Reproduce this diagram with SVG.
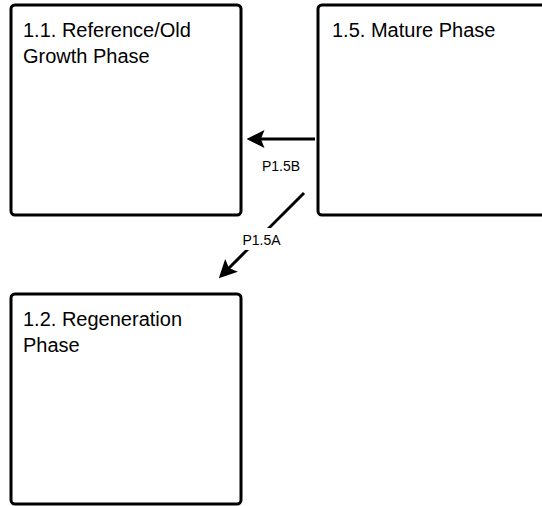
<svg xmlns="http://www.w3.org/2000/svg" width="542" height="506" viewBox="0 0 542 506">
<style>
.box{fill:#fff;stroke:#000;stroke-width:3}
.t{font-family:"Liberation Sans",Arial,sans-serif;font-size:20px;fill:#000}
.lbl{font-family:"Liberation Sans",Arial,sans-serif;font-size:14px;fill:#000;text-anchor:middle}
.edge{stroke:#000;stroke-width:3;fill:none}
</style>
<defs>
<marker id="ah" markerWidth="6" markerHeight="6" refX="4.5" refY="3" orient="auto" markerUnits="strokeWidth" viewBox="0 0 6 6">
<path d="M0,0 L6,3 L0,6 L1.2,3 Z" fill="#000"/>
</marker>
</defs>
<rect width="542" height="506" fill="#fff"/>
<g id="node-1-1">
<rect class="box" x="11" y="5" width="230" height="210" rx="4"/>
<text class="t" x="23" y="37">1.1. Reference/Old</text>
<text class="t" x="23" y="63">Growth Phase</text>
</g>
<g id="node-1-5">
<rect class="box" x="318" y="5" width="230" height="210" rx="4"/>
<text class="t" x="332" y="37">1.5. Mature Phase</text>
</g>
<g id="node-1-2">
<rect class="box" x="11" y="294" width="230" height="210" rx="4"/>
<text class="t" x="23" y="326">1.2. Regeneration</text>
<text class="t" x="23" y="352">Phase</text>
</g>
<g id="connectors">
<line class="edge" x1="315" y1="139" x2="251" y2="139" marker-end="url(#ah)"/>
<text class="lbl" x="281" y="171">P1.5B</text>
<line class="edge" x1="304" y1="193" x2="222" y2="275" marker-end="url(#ah)"/>
<rect x="242" y="228" width="40" height="22" fill="#fff"/>
<text class="lbl" x="261.5" y="245">P1.5A</text>
</g>
</svg>
